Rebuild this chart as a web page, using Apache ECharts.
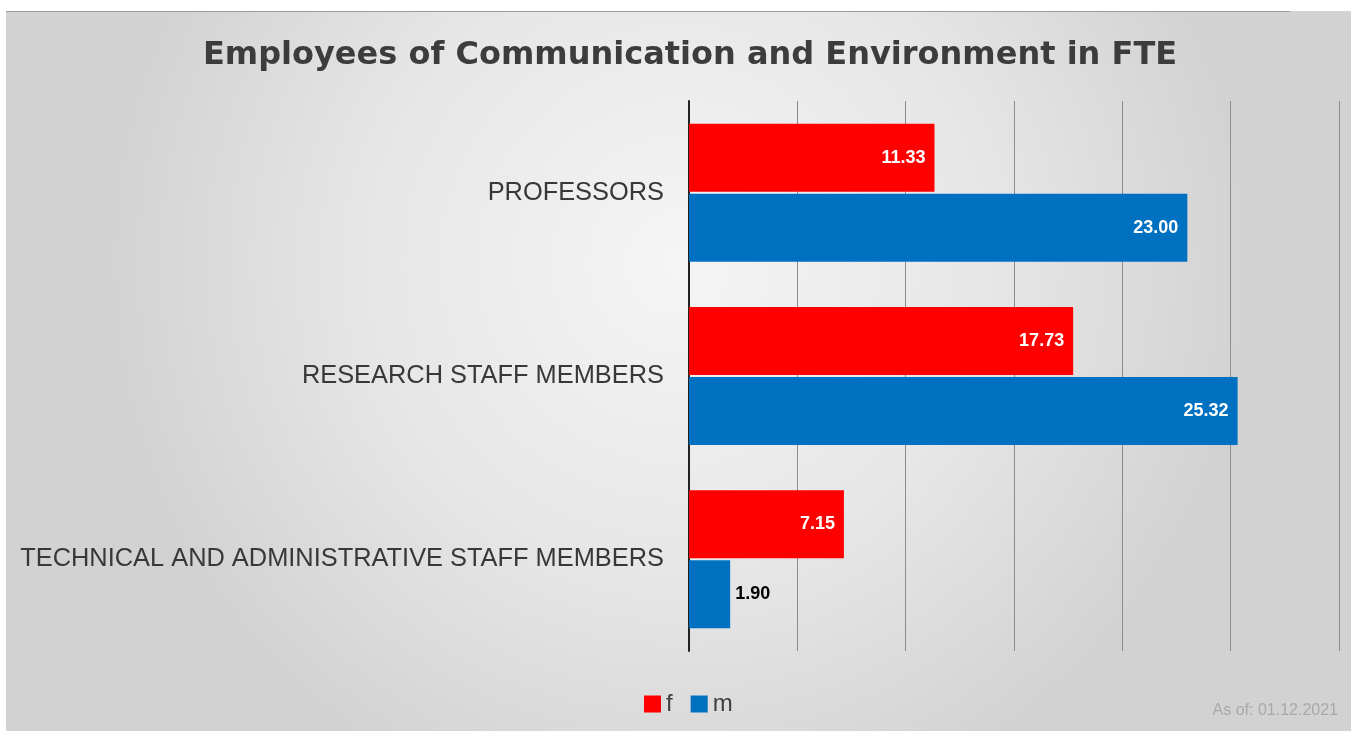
<!DOCTYPE html>
<html>
<head>
<meta charset="utf-8">
<script src="https://cdn.jsdelivr.net/npm/echarts@6/dist/echarts.min.js"></script>
<style>
html,body{margin:0;padding:0;background:#fff;}
#c{width:1351px;height:731px;}
</style>
</head>
<body>
<div id="c"></div>
<script>
const categories = ['PROFESSORS', 'RESEARCH STAFF MEMBERS', 'TECHNICAL AND ADMINISTRATIVE STAFF MEMBERS'];
const femaleValues = [11.33, 17.73, 7.15];
const maleValues = [23.00, 25.32, 1.90];
const seriesNames = ['f', 'm'];
const titleText = 'Employees of Communication and Environment in FTE';
const noteText = 'As of: 01.12.2021';

function buildData(values) {
  return values.map(v => {
    if (v < 4) {
      return { value: v, label: { position: 'right', color: '#000', distance: 5 } };
    }
    return { value: v };
  });
}

const chart = echarts.init(document.getElementById('c'));
const labelCfg = {
  show: true,
  position: 'insideRight',
  distance: 9,
  color: '#fff',
  fontSize: 18,
  fontWeight: 'bold',
  fontFamily: 'Liberation Sans, Arial, sans-serif',
  formatter: p => p.value.toFixed(2)
};
chart.setOption({
  backgroundColor: '#fff',
  animation: false,
  graphic: [
    {
      type: 'rect', z: -10, silent: true,
      shape: { x: 6, y: 11, width: 1345, height: 720 },
      style: {
        fill: {
          type: 'radial', x: 0.5, y: 0.35, r: 0.8,
          colorStops: [
            { offset: 0, color: '#f5f5f5' },
            { offset: 0.55, color: '#e6e6e6' },
            { offset: 1, color: '#d2d2d2' }
          ]
        }
      }
    },
    {
      type: 'line', z: -9, silent: true,
      shape: { x1: 6, y1: 11.5, x2: 1290, y2: 11.5 },
      style: { stroke: '#9a9a9a', lineWidth: 1 }
    },
    {
      type: 'text', silent: true,
      x: 1338, y: 711,
      style: {
        text: noteText, align: 'right', verticalAlign: 'middle',
        fontSize: 16, fill: '#a9a9a9', fontFamily: 'Liberation Sans, Arial, sans-serif'
      }
    }
  ],
  title: {
    text: titleText,
    left: 685, top: 35, textAlign: 'center',
    textStyle: { fontSize: 32, fontWeight: 'bold', color: '#3c3c3c', fontFamily: 'DejaVu Sans, Liberation Sans, sans-serif' }
  },
  legend: {
    data: seriesNames,
    left: 639, top: 687,
    itemWidth: 17, itemHeight: 17, itemGap: 18,
    icon: 'rect',
    textStyle: { fontSize: 24, color: '#404040', fontFamily: 'Liberation Sans, Arial, sans-serif', padding: [0, 0, 0, 0] }
  },
  grid: { left: 689, right: 12, top: 101, bottom: 80, containLabel: false },
  xAxis: {
    type: 'value', min: 0, max: 30, interval: 5,
    axisLabel: { show: false },
    axisLine: { show: false },
    axisTick: { show: false },
    splitLine: { show: true, lineStyle: { color: '#8c8c8c', width: 1 } }
  },
  yAxis: {
    type: 'category', data: categories, inverse: true,
    axisLine: { show: true, lineStyle: { color: '#222', width: 2 } },
    axisTick: { show: false },
    axisLabel: {
      margin: 25, fontSize: 25.4, color: '#383838',
      fontFamily: 'Liberation Sans, Arial, sans-serif'
    }
  },
  series: [
    { name: seriesNames[0], type: 'bar', data: buildData(femaleValues), barWidth: 68, barGap: '3%',
      itemStyle: { color: '#ff0000' }, label: labelCfg },
    { name: seriesNames[1], type: 'bar', data: buildData(maleValues), barWidth: 68, barGap: '3%',
      itemStyle: { color: '#0070c0' }, label: labelCfg }
  ]
});
</script>
</body>
</html>
